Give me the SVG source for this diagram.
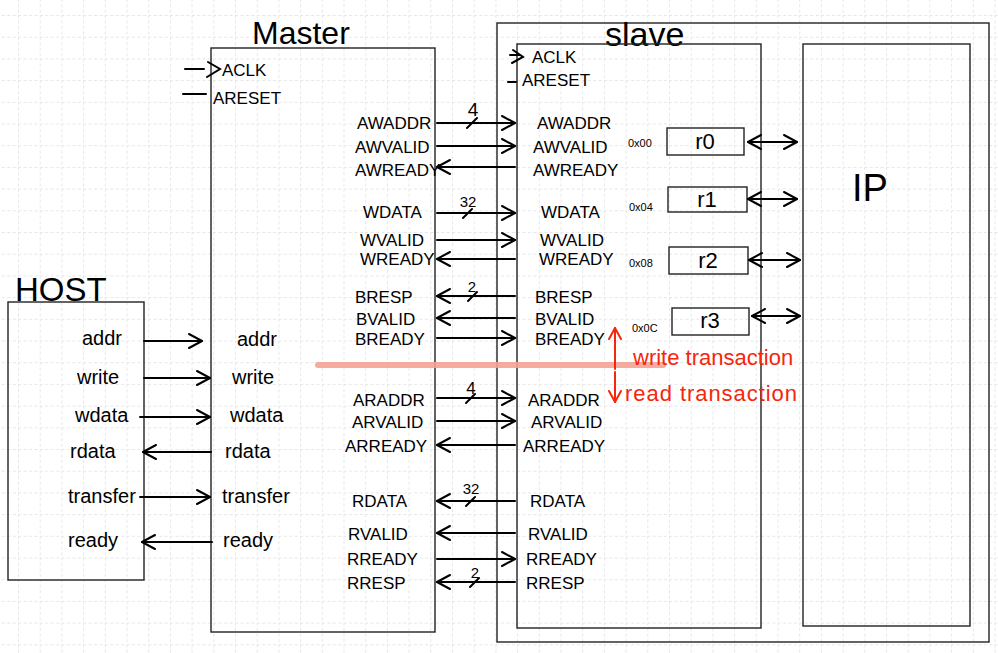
<svg xmlns="http://www.w3.org/2000/svg" width="998" height="653" viewBox="0 0 998 653">
<style>
.box{fill:none;stroke:#222;stroke-width:1.4}
.w{stroke:#000;stroke-width:2;fill:none;stroke-linecap:round}
.wr{stroke:#f5260a;stroke-width:2;fill:none;stroke-linecap:round}
.sig{font-family:"Liberation Sans",Arial,sans-serif;font-size:17px;fill:#000}
.hs{font-family:"Liberation Sans",Arial,sans-serif;font-size:20px;fill:#000}
.bus{font-family:"Liberation Sans",Arial,sans-serif;fill:#000;text-anchor:middle}
.addr{font-family:"Liberation Sans",Arial,sans-serif;font-size:11px;fill:#000}
.reg{font-family:"Liberation Sans",Arial,sans-serif;font-size:22px;fill:#000;text-anchor:middle}
.title{font-family:"Liberation Sans",Arial,sans-serif;fill:#000}
.red{font-family:"Liberation Sans",Arial,sans-serif;font-size:22px;fill:#f5260a}
</style>
<defs>
<pattern id="grid" x="18" y="15" width="21.7" height="21.7" patternUnits="userSpaceOnUse">
<path d="M0,0.5 H21.7 M0.5,0 V21.7" stroke="#e6e6e6" stroke-width="1" stroke-dasharray="3 2.5" fill="none"/>
</pattern>
<marker id="ah" markerUnits="userSpaceOnUse" markerWidth="18" markerHeight="18" refX="13" refY="7" orient="auto-start-reverse" overflow="visible">
<path d="M0,0 L13,7 L0,14" fill="none" stroke="#000" stroke-width="2" stroke-linecap="round" stroke-linejoin="round"/>
</marker>
<marker id="ahr" markerUnits="userSpaceOnUse" markerWidth="16" markerHeight="16" refX="11" refY="6" orient="auto-start-reverse" overflow="visible">
<path d="M0,0 L11,6 L0,12" fill="none" stroke="#f5260a" stroke-width="2" stroke-linecap="round" stroke-linejoin="round"/>
</marker>
</defs>
<rect width="998" height="653" fill="#fff"/>
<rect width="998" height="653" fill="url(#grid)"/>

<g id="host">
<rect class="box" x="8" y="302" width="136" height="278"/>
<text class="title" x="15" y="301" font-size="33">HOST</text>
<text class="hs" x="82" y="345">addr</text>
<text class="hs" x="77" y="384">write</text>
<text class="hs" x="75" y="422">wdata</text>
<text class="hs" x="70" y="458">rdata</text>
<text class="hs" x="68" y="503">transfer</text>
<text class="hs" x="68" y="547">ready</text>
</g>

<g id="master">
<rect class="box" x="211" y="48" width="224" height="584"/>
<text class="title" x="252" y="44" font-size="32">Master</text>
<path class="w" d="M185,69 H204 M208,62 L220,69 L207,77"/>
<text class="sig" x="222" y="76">ACLK</text>
<path class="w" d="M183,94 H206"/>
<text class="sig" x="213" y="104">ARESET</text>
<text class="hs" x="237" y="346">addr</text>
<text class="hs" x="232" y="384">write</text>
<text class="hs" x="230" y="422">wdata</text>
<text class="hs" x="225" y="458">rdata</text>
<text class="hs" x="222" y="503">transfer</text>
<text class="hs" x="223" y="547">ready</text>
<text class="sig" x="357" y="129">AWADDR</text>
<text class="sig" x="355" y="153">AWVALID</text>
<text class="sig" x="355" y="176">AWREADY</text>
<text class="sig" x="363" y="218">WDATA</text>
<text class="sig" x="360" y="246">WVALID</text>
<text class="sig" x="360" y="265">WREADY</text>
<text class="sig" x="355" y="303">BRESP</text>
<text class="sig" x="356" y="325">BVALID</text>
<text class="sig" x="355" y="345">BREADY</text>
<text class="sig" x="353" y="406">ARADDR</text>
<text class="sig" x="352" y="428">ARVALID</text>
<text class="sig" x="345" y="452">ARREADY</text>
<text class="sig" x="352" y="507">RDATA</text>
<text class="sig" x="348" y="540">RVALID</text>
<text class="sig" x="347" y="565">RREADY</text>
<text class="sig" x="347" y="589">RRESP</text>
</g>

<g id="slave">
<rect class="box" x="497" y="23" width="492" height="619"/>
<text class="title" x="605" y="46" font-size="34">slave</text>
</g>

<g id="axi-slave">
<rect class="box" x="517" y="44" width="244" height="584"/>
<path class="w" d="M510,55 H519 M513,50 L523,57 L512,63"/>
<text class="sig" x="532" y="63">ACLK</text>
<path class="w" d="M508,82 H516"/>
<text class="sig" x="522" y="86">ARESET</text>
<text class="sig" x="537" y="129">AWADDR</text>
<text class="sig" x="533" y="153">AWVALID</text>
<text class="sig" x="533" y="176">AWREADY</text>
<text class="sig" x="541" y="218">WDATA</text>
<text class="sig" x="540" y="246">WVALID</text>
<text class="sig" x="539" y="265">WREADY</text>
<text class="sig" x="535" y="303">BRESP</text>
<text class="sig" x="535" y="325">BVALID</text>
<text class="sig" x="535" y="345">BREADY</text>
<text class="sig" x="528" y="406">ARADDR</text>
<text class="sig" x="531" y="428">ARVALID</text>
<text class="sig" x="523" y="452">ARREADY</text>
<text class="sig" x="530" y="507">RDATA</text>
<text class="sig" x="528" y="540">RVALID</text>
<text class="sig" x="526" y="565">RREADY</text>
<text class="sig" x="526" y="589">RRESP</text>
</g>

<g id="r0">
<rect class="box" x="667" y="128" width="77" height="27"/>
<text class="reg" x="705" y="149">r0</text>
<text class="addr" x="628" y="147">0x00</text>
</g>
<g id="r1">
<rect class="box" x="668" y="187" width="79" height="25"/>
<text class="reg" x="707" y="207">r1</text>
<text class="addr" x="629" y="211">0x04</text>
</g>
<g id="r2">
<rect class="box" x="669" y="247" width="79" height="27"/>
<text class="reg" x="708" y="268">r2</text>
<text class="addr" x="629" y="267">0x08</text>
</g>
<g id="r3">
<rect class="box" x="672" y="308" width="77" height="27"/>
<text class="reg" x="710" y="328">r3</text>
<text class="addr" x="632" y="332">0x0C</text>
</g>

<g id="ip">
<rect class="box" x="803" y="44" width="167" height="582"/>
<text class="title" x="852" y="201" font-size="38">IP</text>
</g>

<g id="legend">
<path d="M318,365 H663" stroke="#f4a294" stroke-width="6" stroke-linecap="round" opacity="0.9"/>
<path class="wr" d="M615,369 V328" marker-end="url(#ahr)"/>
<text class="red" x="633" y="365">write transaction</text>
<path class="wr" d="M615,372 V402" marker-end="url(#ahr)"/>
<text class="red" x="625" y="401" textLength="172">read transaction</text>
</g>

<g id="connectors">
<path class="w" d="M144,341 H202" marker-end="url(#ah)"/>
<path class="w" d="M144,378 H210" marker-end="url(#ah)"/>
<path class="w" d="M140,417 H210" marker-end="url(#ah)"/>
<path class="w" d="M211,452 H143" marker-end="url(#ah)"/>
<path class="w" d="M140,497 H210" marker-end="url(#ah)"/>
<path class="w" d="M212,542 H142" marker-end="url(#ah)"/>

<path class="w" d="M437,123 H515" marker-end="url(#ah)"/>
<path class="w" d="M437,146 H515" marker-end="url(#ah)"/>
<path class="w" d="M515,167 H437" marker-end="url(#ah)"/>
<path class="w" d="M437,213 H515" marker-end="url(#ah)"/>
<path class="w" d="M437,240 H515" marker-end="url(#ah)"/>
<path class="w" d="M515,259 H437" marker-end="url(#ah)"/>
<path class="w" d="M515,296 H437" marker-end="url(#ah)"/>
<path class="w" d="M515,318 H437" marker-end="url(#ah)"/>
<path class="w" d="M437,338 H515" marker-end="url(#ah)"/>
<path class="w" d="M437,398 H515" marker-end="url(#ah)"/>
<path class="w" d="M437,421 H515" marker-end="url(#ah)"/>
<path class="w" d="M515,445 H437" marker-end="url(#ah)"/>
<path class="w" d="M515,501 H437" marker-end="url(#ah)"/>
<path class="w" d="M515,533 H437" marker-end="url(#ah)"/>
<path class="w" d="M437,559 H515" marker-end="url(#ah)"/>
<path class="w" d="M515,582 H437" marker-end="url(#ah)"/>

<path class="w" d="M467,128 L477,118 M463,218 L472,209 M468,301 L477,292 M466,403 L475,394 M466,506 L475,497 M470,587 L479,578" stroke-width="1.6"/>
<text class="bus" x="473" y="116" font-size="19">4</text>
<text class="bus" x="468" y="207" font-size="15">32</text>
<text class="bus" x="472" y="292" font-size="15">2</text>
<text class="bus" x="471" y="394" font-size="17">4</text>
<text class="bus" x="471" y="494" font-size="15">32</text>
<text class="bus" x="475" y="578" font-size="15">2</text>

<path class="w" d="M748,142 H797" marker-start="url(#ah)" marker-end="url(#ah)"/>
<path class="w" d="M748,199 H797" marker-start="url(#ah)" marker-end="url(#ah)"/>
<path class="w" d="M749,260 H800" marker-start="url(#ah)" marker-end="url(#ah)"/>
<path class="w" d="M752,316 H800" marker-start="url(#ah)" marker-end="url(#ah)"/>
</g>
</svg>
